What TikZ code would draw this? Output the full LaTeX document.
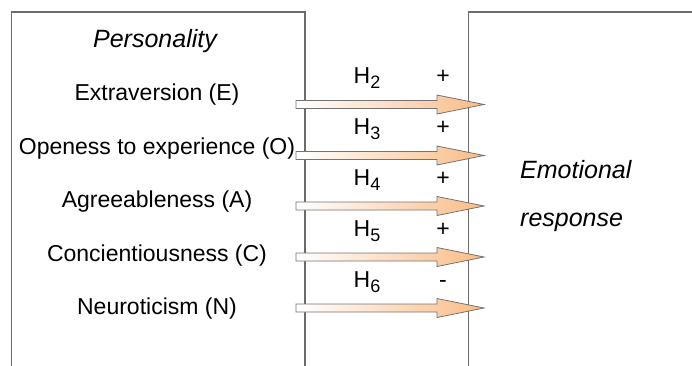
\documentclass[tikz,border=0pt]{standalone}
\usepackage{fontspec}
\setmainfont{Liberation Sans}
\usetikzlibrary{positioning,calc}
\definecolor{frame}{HTML}{6B6B6B}
\definecolor{peach}{HTML}{F9BC86}
\tikzset{panel/.style={draw=frame,line width=1.5pt,anchor=north west,minimum width=#1,minimum height=420pt,inner sep=0pt}, trait/.style={font=\fontsize{23}{27}\selectfont,inner sep=0pt}, slant/.style={font=\fontsize{25}{48}\selectfont\itshape,inner sep=0pt}, hyp/.style={font=\fontsize{23}{27}\selectfont,inner sep=0pt,anchor=base}, flow/.style={draw=black!55,line width=0.8pt,left color=white,right color=peach}}
\newcommand{\hsub}[1]{H\raisebox{-5pt}{\fontsize{18}{18}\selectfont#1}}
\begin{document}
\begin{tikzpicture}[x=1pt,y=-1pt]
\useasboundingbox (0,0) rectangle (692,365);
\node[panel=293.5pt](pers) at (10.5,11){};\node[panel=300pt](emo) at (467.5,11){};
\node[slant](title) at (155,41){Personality};
\foreach \n/\t/\y in {E/Extraversion (E)/95,O/Openess to experience (O)/149,A/Agreeableness (A)/202,C/Concientiousness (C)/256,N/Neuroticism (N)/309}{\node[trait](\n) at (157,\y){\t};}
\node[slant,align=left,anchor=west](resp) at (520,196){Emotional\\response};
\foreach \i/\y/\s in {2/104.5/+,3/155.5/+,4/206/+,5/257/+,6/308/-}{
\coordinate (t\i) at (296,\y);
\shade[flow,shift={(t\i)}] (0,-4) -- (141,-4) -- (141,-9.5) -- (188,0) -- (141,9.5) -- (141,4) -- (0,4) -- cycle;
\node[hyp](h\i) at ($(t\i)+(71,-21)$){\hsub{\i}};\node[hyp](sg\i) at ($(t\i)+(147,-21)$){\s};}
\end{tikzpicture}
\end{document}
